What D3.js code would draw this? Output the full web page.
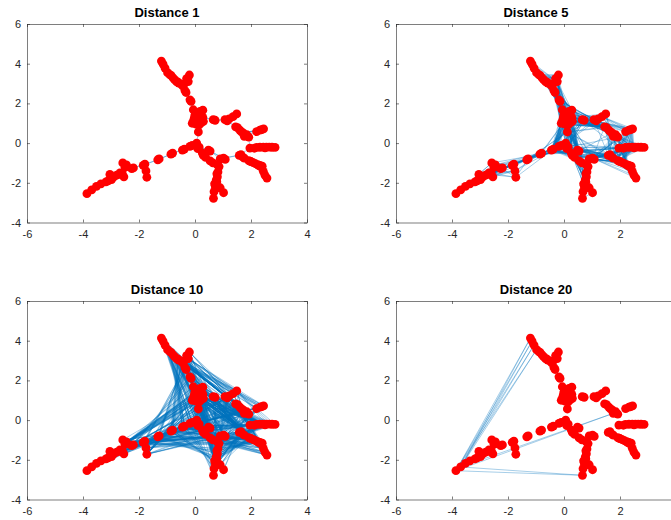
<!DOCTYPE html>
<html>
<head>
<meta charset="utf-8">
<script src="https://d3js.org/d3.v7.min.js"></script>
<style>
body { margin: 0; background: #fff; overflow: hidden; }
svg { display: block; }
.tick text { font-family: "Liberation Sans", Arial, sans-serif; font-size: 11px; fill: #262626; }
.ttl { font-family: "Liberation Sans", Arial, sans-serif; font-size: 13px; font-weight: bold; fill: #000; }
</style>
</head>
<body>
<svg id="vis" width="671" height="520"></svg>
<script>
// node positions
var nodeX = [0.06, 0.12, 0.10, -0.06, 0.28, -0.05, 0.22, 0.04, 0.28, 0.00,
  -0.18, -0.36, -0.40, -0.24, -0.20, -0.58, -0.73, -0.85, -0.98, -1.07, -1.14, -1.20,
  -0.18, -0.38, -0.86, -1.33, -1.79, -1.75, -1.72, -2.26, -2.50, -2.58, -2.60, -2.80,
  -2.54, -3.00, -3.04, -3.18, -3.36, -3.52, -3.69, -3.86,
  0.15, 0.26, 0.54, 0.54, 0.80, 1.02, 0.78, 0.76, 0.72, 0.68, 0.66, 0.90, 1.02,
  1.58, 1.76, 1.92, 2.08, 2.24, 2.40, 2.44, 2.50, 2.57,
  1.96, 2.20, 2.44, 2.65, 2.86,
  0.65, 1.07, 1.22, 1.36, 1.45, 1.72, 1.92, 1.76, 2.20, 2.45, 1.49, 0.38,
  0.15, 0.05, 0.20, -0.02, 0.15,
  1.70, 2.00, 2.16, 2.32,
  2.32, 2.55, 2.75,
  1.60, 1.85, 2.32,
  0.30, 0.64, 0.90,
  0.80, 0.74,
  -2.68, -2.98, -3.10,
  -0.30, -0.50, -0.66,
  0.30, -0.10, 0.18,
  -0.14, -0.32, -0.44, -0.62, -0.78, -0.90,
  -0.10, -0.45, -0.80, -1.28, -1.85, -2.20, -2.45, -2.66, -2.90,
  0.10, 0.48, 1.08, 0.86,
  0.82, 0.78, 0.70,
  1.64, 1.98, 2.28, 2.36,
  2.12, 2.50,
  0.72, 1.15, 1.52, 1.66, 2.38];
var nodeY = [0.00, 0.56, 1.25, 1.68, 1.66, 1.15, 1.02, 0.95, 1.30, 1.42,
  2.18, 2.65, 2.95, 3.10, 3.43, 3.02, 3.20, 3.40, 3.55, 3.78, 3.98, 4.13,
  -0.17, -0.30, -0.56, -0.84, -1.06, -1.40, -1.72, -1.29, -1.22, -1.00, -1.52, -1.62,
  -1.70, -1.78, -1.58, -1.95, -2.05, -2.18, -2.36, -2.55,
  -0.20, -0.50, -0.40, -0.90, -1.10, -0.76, -1.55, -1.85, -2.15, -2.45, -2.78, -2.25, -2.50,
  -0.62, -0.76, -0.88, -0.98, -1.08, -1.16, -1.42, -1.62, -1.76,
  -0.25, -0.22, -0.20, -0.20, -0.22,
  1.18, 1.18, 1.22, 1.33, 0.82, 0.52, 0.30, 0.34, 0.58, 0.72, 1.47, -0.72,
  1.45, 1.25, 1.18, 1.30, 0.92,
  -0.70, -0.93, -1.04, -1.12,
  -0.21, -0.20, -0.21,
  0.65, 0.42, 0.65,
  -0.62, -1.00, -0.80,
  -1.70, -2.30,
  -1.50, -1.84, -1.90,
  3.25, 2.98, 3.10,
  1.10, 1.00, 1.60,
  2.10, 2.55, 2.88, 3.08, 3.28, 3.45,
  -0.12, -0.35, -0.50, -0.80, -1.12, -1.25, -1.10, -1.58, -1.70,
  -0.28, -0.35, -0.82, -1.18,
  -1.45, -1.95, -2.05,
  -0.58, -0.92, -1.14, -1.20,
  -0.26, -0.24,
  1.15, 1.12, 0.78, 0.56, 0.68];
// graph links (node index pairs)
var links = [[0,1],[1,2],[2,3],[2,4],[2,5],[2,6],[2,7],[2,8],[2,9],
  [3,10],[10,11],[11,12],[11,13],[13,14],[12,15],[15,16],[15,17],[17,18],[17,19],[17,20],[17,21],
  [0,22],[22,23],[23,24],[24,25],[25,26],[26,27],[27,28],[26,29],[29,30],[30,31],[30,32],
  [32,33],[32,34],[33,35],[33,36],[33,37],[33,38],[33,39],[39,40],[39,41],
  [0,42],[42,43],[42,44],[43,45],[45,46],[44,47],[46,48],[48,49],[49,50],[50,51],[51,52],[49,53],[53,54],
  [47,55],[55,56],[55,57],[57,58],[58,59],[59,60],[59,61],[59,62],[59,63],
  [55,64],[64,65],[65,66],[66,67],[66,68],
  [8,69],[69,70],[70,71],[71,72],[70,73],[73,74],[74,75],[77,76],[74,77],[74,78],[72,79],[43,80],
  [75,64],
  [2,81],[2,82],[2,83],[2,84],[2,85],
  [55,86],[57,87],[58,88],[59,89],
  [65,90],[66,91],[66,92],
  [73,93],[74,94],[74,95],
  [43,96],[45,97],[44,98],
  [48,99],[50,100],
  [32,101],[33,102],[33,103],
  [13,104],[12,105],[15,106],
  [2,107],[2,108],[2,109],
  [3,110],[10,111],[11,112],[12,113],[15,114],[15,115],
  [0,116],[22,117],[23,118],[24,119],[25,120],[26,121],[29,122],[30,123],[32,124],
  [0,125],[42,126],[44,127],[45,128],
  [46,129],[48,130],[49,131],
  [47,132],[56,133],[58,134],[59,135],
  [64,136],[65,137],
  [8,138],[69,139],[70,140],[73,141],[74,142]];
var distances = [1, 5, 10, 20];
var xTicks = [-6, -4, -2, 0, 2, 4];
var yTicks = [-4, -2, 0, 2, 4, 6];

var svg = d3.select("#vis");

// all pairs hop distance (bfs from each node)
var n = nodeX.length;
var adj = d3.range(n).map(function() { return []; });
links.forEach(function(l) { adj[l[0]].push(l[1]); adj[l[1]].push(l[0]); });
var hops = d3.range(n).map(function(s) {
  var d = new Array(n).fill(-1), q = [s];
  d[s] = 0;
  while (q.length) {
    var u = q.shift();
    adj[u].forEach(function(v) { if (d[v] < 0) { d[v] = d[u] + 1; q.push(v); } });
  }
  return d;
});

var panels = [
  {left: 27, top: 24},
  {left: 396, top: 24},
  {left: 27, top: 301},
  {left: 396, top: 301}
];
var W = 280, H = 198.5;
var fmt = function(d) { return d < 0 ? "-" + Math.abs(d) : d; };

panels.forEach(function(p, pi) {
  var k = distances[pi];
  var x = d3.scaleLinear().domain([-6, 4]).range([p.left, p.left + W]);
  var y = d3.scaleLinear().domain([-4, 6]).range([p.top + H, p.top]);
  var g = svg.append("g");

  var pairs = [];
  for (var i = 0; i < n; i++)
    for (var j = i + 1; j < n; j++)
      if (hops[i][j] === k) pairs.push([i, j]);

  g.selectAll("line.edge").data(pairs).enter().append("line")
    .attr("class", "edge")
    .attr("x1", function(d) { return x(nodeX[d[0]]); })
    .attr("y1", function(d) { return y(nodeY[d[0]]); })
    .attr("x2", function(d) { return x(nodeX[d[1]]); })
    .attr("y2", function(d) { return y(nodeY[d[1]]); })
    .attr("stroke", "#0072BD")
    .attr("stroke-opacity", 0.5)
    .attr("stroke-width", 0.7);

  g.selectAll("circle").data(d3.range(n)).enter().append("circle")
    .attr("cx", function(d) { return x(nodeX[d]); })
    .attr("cy", function(d) { return y(nodeY[d]); })
    .attr("r", 4.4)
    .attr("fill", "#ff0000");

  // axes, box with ticks inside on all sides
  var tl = 3;
  g.append("g").attr("transform", "translate(0," + (p.top + H) + ")")
    .call(d3.axisBottom(x).tickValues(xTicks).tickFormat(fmt).tickSizeInner(-tl).tickSizeOuter(0).tickPadding(8));
  g.append("g").attr("transform", "translate(" + p.left + ",0)")
    .call(d3.axisLeft(y).tickValues(yTicks).tickFormat(fmt).tickSizeInner(-tl).tickSizeOuter(0).tickPadding(6));
  g.append("g").attr("transform", "translate(0," + p.top + ")")
    .call(d3.axisTop(x).tickValues(xTicks).tickFormat(function() { return ""; }).tickSizeInner(-tl).tickSizeOuter(0));
  g.append("g").attr("transform", "translate(" + (p.left + W) + ",0)")
    .call(d3.axisRight(y).tickValues(yTicks).tickFormat(function() { return ""; }).tickSizeInner(-tl).tickSizeOuter(0));
  g.selectAll(".domain, .tick line").attr("stroke", "#262626").attr("stroke-width", 0.6);

  g.append("text").attr("class", "ttl")
    .attr("x", p.left + W / 2).attr("y", p.top - 7)
    .attr("text-anchor", "middle")
    .text("Distance " + k);
});
</script>
</body>
</html>
